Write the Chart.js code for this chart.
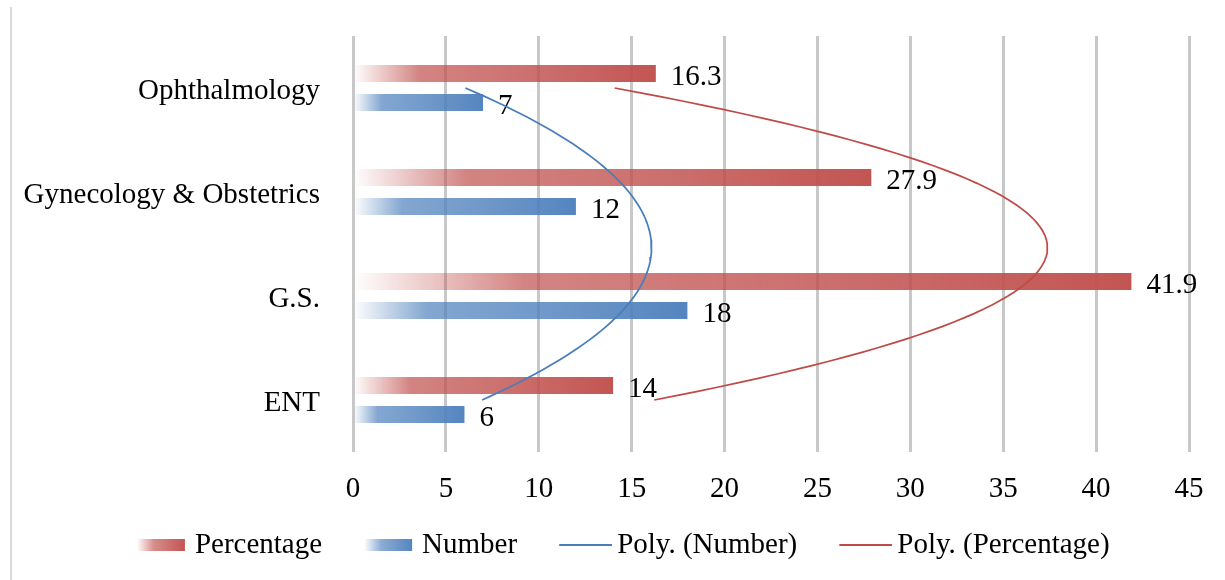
<!DOCTYPE html>
<html>
<head>
<meta charset="utf-8">
<script src="https://cdn.jsdelivr.net/npm/chart.js@4.4.1/dist/chart.umd.min.js"></script>
<style>
  html, body { margin: 0; padding: 0; background: #fff; }
  #wrap { position: relative; width: 1225px; height: 580px; }
  #frame { position: absolute; left: 10px; top: 7px; width: 2px; height: 573px; background: #d9d9d9; }
  #bars, #trend { position: absolute; left: 0; top: 0; }
  #trend { pointer-events: none; }
</style>
</head>
<body>
<div id="wrap">
  <div id="frame"></div>
  <canvas id="bars" width="1225" height="580"></canvas>
  <canvas id="trend" width="1225" height="580"></canvas>
</div>
<script>
// Departments, top to bottom
const categories = ['Ophthalmology', 'Gynecology & Obstetrics', 'G.S.', 'ENT'];
// Share of cases (%)
const percentage = [16.3, 27.9, 41.9, 14];
// Number of cases
const number = [7, 12, 18, 6];
// Value axis ticks
const xTickValues = [0, 5, 10, 15, 20, 25, 30, 35, 40, 45];

const RED = '192,80,77';
const BLUE = '79,129,189';
const RED_LINE = '#BE4B48';
const BLUE_LINE = '#4A7EBB';
const FONT = { family: "'Liberation Serif', 'Times New Roman', serif", size: 29 };

// Second-order least-squares trendline over category positions 0..n-1
function polyFit2(ys) {
  const S = [0, 0, 0, 0, 0], T = [0, 0, 0];
  ys.forEach((y, x) => {
    let p = 1;
    for (let k = 0; k < 5; k++) { S[k] += p; p *= x; }
    T[0] += y; T[1] += x * y; T[2] += x * x * y;
  });
  const A = [[S[0], S[1], S[2]], [S[1], S[2], S[3]], [S[2], S[3], S[4]]];
  const det = m => m[0][0] * (m[1][1] * m[2][2] - m[1][2] * m[2][1])
                 - m[0][1] * (m[1][0] * m[2][2] - m[1][2] * m[2][0])
                 + m[0][2] * (m[1][0] * m[2][1] - m[1][1] * m[2][0]);
  const D = det(A);
  const coef = [0, 1, 2].map(c => det(A.map((row, r) => row.map((v, j) => (j === c ? T[r] : v)))) / D);
  return t => coef[0] + coef[1] * t + coef[2] * t * t;
}
function trendPoints(ys) {
  const f = polyFit2(ys);
  const pts = [];
  const steps = (ys.length - 1) * 24;
  for (let i = 0; i <= steps; i++) {
    const t = i / 24;
    pts.push({ x: f(t), y: t });
  }
  return pts;
}

// Bar fill fading in from the zero line toward the bar end
function barFill(rgb) {
  return (ctx) => {
    const chart = ctx.chart;
    if (ctx.type !== 'data' || !chart.chartArea) return `rgb(${rgb})`;
    const xs = chart.scales.x;
    const x0 = xs.getPixelForValue(0);
    const x1 = xs.getPixelForValue(ctx.raw);
    const g = chart.ctx.createLinearGradient(x0, 0, x1, 0);
    g.addColorStop(0, `rgba(${rgb},0)`);
    g.addColorStop(0.07, `rgba(${rgb},0.22)`);
    g.addColorStop(0.22, `rgba(${rgb},0.7)`);
    g.addColorStop(0.6, `rgba(${rgb},0.82)`);
    g.addColorStop(1, `rgba(${rgb},0.97)`);
    return g;
  };
}

// Legend symbols (drawn in the right part of a wider transparent tile)
function legendBar(rgb) {
  const cv = document.createElement('canvas');
  cv.width = 78; cv.height = 12;
  const c = cv.getContext('2d');
  const g = c.createLinearGradient(25, 0, 73, 0);
  g.addColorStop(0, `rgba(${rgb},0)`);
  g.addColorStop(0.35, `rgba(${rgb},0.65)`);
  g.addColorStop(1, `rgba(${rgb},0.97)`);
  c.fillStyle = g;
  c.fillRect(25, 0, 48, 12);
  return cv;
}
function legendLine(color) {
  const cv = document.createElement('canvas');
  cv.width = 78; cv.height = 2;
  const c = cv.getContext('2d');
  c.fillStyle = color;
  c.fillRect(25, 0, 53, 2);
  return cv;
}
const legendItems = [
  { text: 'Percentage', symbol: legendBar(RED) },
  { text: 'Number', symbol: legendBar(BLUE) },
  { text: 'Poly. (Number)', symbol: legendLine(BLUE_LINE) },
  { text: 'Poly. (Percentage)', symbol: legendLine(RED_LINE) }
];

// Value labels at the end of each bar
const valueLabels = {
  id: 'valueLabels',
  afterDatasetsDraw(chart) {
    const c = chart.ctx;
    c.save();
    c.font = `${FONT.size}px ${FONT.family}`;
    c.fillStyle = '#000';
    c.textAlign = 'left';
    c.textBaseline = 'middle';
    chart.data.datasets.forEach((ds, i) => {
      const meta = chart.getDatasetMeta(i);
      meta.data.forEach((el, j) => {
        c.fillText(String(ds.data[j]), el.x + 15, el.y + 4);
      });
    });
    c.restore();
  }
};

// Bars, axes, value labels and legend
const barChart = new Chart(document.getElementById('bars'), {
  type: 'bar',
  data: {
    labels: categories,
    datasets: [
      {
        label: 'Percentage', data: percentage, backgroundColor: barFill(RED),
        borderWidth: 0, categoryPercentage: 0.558, barPercentage: 0.586
      },
      {
        label: 'Number', data: number, backgroundColor: barFill(BLUE),
        borderWidth: 0, categoryPercentage: 0.558, barPercentage: 0.586
      }
    ]
  },
  options: {
    indexAxis: 'y',
    responsive: false,
    devicePixelRatio: 1,
    animation: false,
    events: [],
    layout: { padding: { left: 20, right: 14, top: 36, bottom: 10.5 } },
    scales: {
      x: {
        type: 'linear', position: 'bottom', min: 0, max: 45,
        afterBuildTicks: s => { s.ticks = xTickValues.map(v => ({ value: v })); },
        afterFit: s => { s.height = 52; },
        grid: { color: '#c8c8c8', lineWidth: 3, drawTicks: false },
        border: { display: false },
        ticks: { font: FONT, color: '#000', padding: 20, maxRotation: 0 }
      },
      y: {
        type: 'category', position: 'left',
        afterFit: s => { s.width = 333; },
        grid: { display: false },
        border: { display: false },
        ticks: { font: { ...FONT, lineHeight: 0.4 }, color: '#000', padding: 25, autoSkip: false, labelOffset: 3 }
      },
      yr: {
        type: 'linear', position: 'right', display: true,
        afterFit: s => { s.width = 22; },
        grid: { display: false }, border: { display: false }, ticks: { display: false }
      }
    },
    plugins: {
      tooltip: { enabled: false },
      legend: {
        position: 'bottom',
        labels: {
          font: FONT, color: '#000', usePointStyle: true, pointStyleWidth: 59, padding: 26.5,
          generateLabels: () => legendItems.map((it, i) => ({
            text: it.text, datasetIndex: i, hidden: false,
            pointStyle: it.symbol, fillStyle: 'rgba(0,0,0,0)',
            strokeStyle: 'rgba(0,0,0,0)', lineWidth: 0, fontColor: '#000'
          }))
        }
      }
    }
  },
  plugins: [valueLabels]
});

// Polynomial trendlines on a layer sharing the same plot area
const area = barChart.chartArea;
new Chart(document.getElementById('trend'), {
  type: 'line',
  data: {
    datasets: [
      {
        label: 'Poly. (Number)', data: trendPoints(number), indexAxis: 'y',
        borderColor: BLUE_LINE, borderWidth: 1.75, pointRadius: 0, fill: false, tension: 0
      },
      {
        label: 'Poly. (Percentage)', data: trendPoints(percentage), indexAxis: 'y',
        borderColor: RED_LINE, borderWidth: 1.75, pointRadius: 0, fill: false, tension: 0
      }
    ]
  },
  options: {
    responsive: false,
    devicePixelRatio: 1,
    animation: false,
    events: [],
    layout: {
      padding: { left: area.left, top: area.top, right: 1225 - area.right, bottom: 580 - area.bottom }
    },
    scales: {
      x: { type: 'linear', display: false, min: 0, max: 45 },
      y: { type: 'linear', display: false, min: -0.5, max: 3.5, reverse: true, offset: false }
    },
    plugins: { legend: { display: false }, tooltip: { enabled: false } }
  }
});
</script>
</body>
</html>
